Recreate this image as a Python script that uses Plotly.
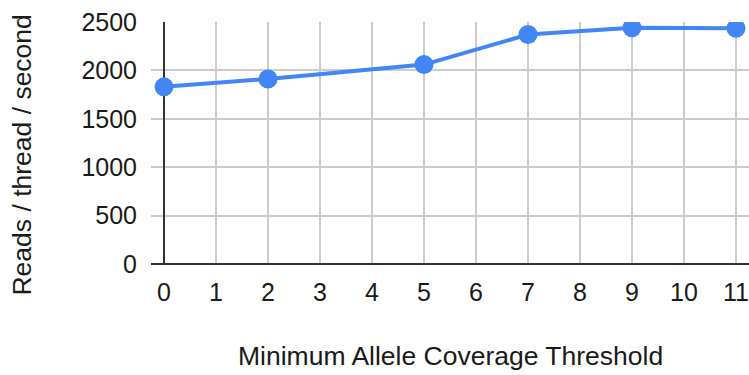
import plotly.graph_objects as go

# Throughput measured at each minimum allele coverage threshold
thresholds = [0, 2, 5, 7, 9, 11]
reads_per_thread_sec = [1830, 1912, 2060, 2370, 2440, 2435]

x_ticks = list(range(0, 12))
y_ticks = [0, 500, 1000, 1500, 2000, 2500]

FONT = "Liberation Sans, Arial, sans-serif"
BLUE = "#4285F4"
TEXT = "#1a1a1a"

fig = go.Figure()
fig.add_trace(go.Scatter(
    x=thresholds,
    y=reads_per_thread_sec,
    mode="lines+markers",
    line=dict(color=BLUE, width=4),
    marker=dict(color=BLUE, size=19),
    cliponaxis=True,
    hoverinfo="skip",
    showlegend=False,
))

fig.update_layout(
    width=749,
    height=375,
    margin=dict(l=151, r=0, t=22, b=111),
    paper_bgcolor="white",
    plot_bgcolor="white",
    font=dict(family=FONT, color=TEXT),
    xaxis=dict(
        range=[-0.25, 11.25],
        tickmode="array",
        tickvals=x_ticks,
        ticktext=[str(v) for v in x_ticks],
        tickfont=dict(size=25, family=FONT, color=TEXT),
        showgrid=True,
        gridcolor="#cccccc",
        gridwidth=2,
        zeroline=True,
        zerolinecolor="#333333",
        zerolinewidth=2,
        showline=False,
        ticks="",
        ticklabelstandoff=11,
        fixedrange=True,
    ),
    yaxis=dict(
        range=[0, 2500],
        tickmode="array",
        tickvals=y_ticks,
        ticktext=[str(v) for v in y_ticks],
        tickfont=dict(size=25, family=FONT, color=TEXT),
        showgrid=True,
        gridcolor="#cccccc",
        gridwidth=2,
        zeroline=True,
        zerolinecolor="#333333",
        zerolinewidth=2,
        showline=False,
        ticks="",
        ticklabelstandoff=13,
        fixedrange=True,
    ),
    annotations=[
        dict(
            text="Minimum Allele Coverage Threshold",
            xref="paper", yref="paper",
            x=0.5, y=-0.38,
            xanchor="center", yanchor="middle",
            showarrow=False,
            font=dict(size=26.5, family=FONT, color=TEXT),
        ),
        dict(
            text="Reads / thread / second",
            xref="paper", yref="paper",
            x=-0.215, y=0.45,
            xanchor="center", yanchor="middle",
            textangle=-90,
            showarrow=False,
            font=dict(size=26.5, family=FONT, color=TEXT),
        ),
    ],
)

fig.write_html("out.html")
